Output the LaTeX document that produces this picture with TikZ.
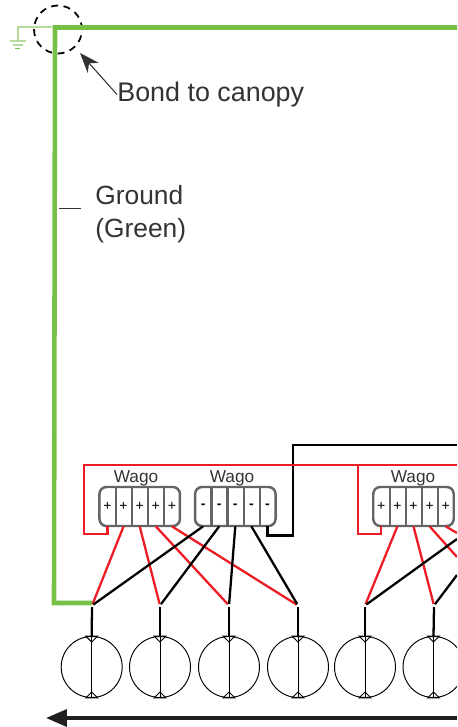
\documentclass[tikz,border=0pt]{standalone}
\usepackage{fontspec}
\setmainfont{Liberation Sans}
\usetikzlibrary{arrows.meta}
\definecolor{groundgreen}{HTML}{76C045}
\definecolor{palegreen}{HTML}{B4DB9C}
\definecolor{wirered}{HTML}{ED1C24}
\definecolor{inkgrey}{HTML}{333335}
\definecolor{boxgrey}{HTML}{636466}
\begin{document}
\begin{tikzpicture}[x=0.02cm,y=-0.02cm]
			\tikzset{wago/.style={rectangle, rounded corners=0.14cm, draw=boxgrey, line width=1.4pt, minimum width=1.61cm, minimum height=0.78cm, inner sep=0}}
			\tikzset{cell/.style={rectangle, minimum width=0.322cm, minimum height=0.78cm, inner sep=0, text=black, font=\fontsize{8}{8}\selectfont}}
			\tikzset{divider/.style={draw=boxgrey, line width=1.3pt}}
			\tikzset{label/.style={inner sep=0, text=inkgrey}}
			\tikzset{joint/.style={circle, minimum size=0.05cm, inner sep=0}}
			\tikzset{lamp/.style={circle, draw=black, line width=0.55pt, minimum size=1.22cm, inner sep=0}}
			\tikzset{redwire/.style={draw=wirered, line width=1.3pt}}
			\tikzset{blackwire/.style={draw=black, line width=1.3pt}}
			\tikzset{stem/.style={draw=black, line width=0.55pt}}

			\clip (0,0) rectangle (457,727);

			\node[circle, draw=black, line width=1pt, dash pattern=on 0.14cm off 0.11cm, minimum size=0.96cm, inner sep=0] at (58,29.5) (bond) {};
			\node[label, anchor=west, font=\fontsize{15.3}{18}\selectfont] at (117,94.5) (bondtext) {Bond to canopy};
			\node[label, anchor=west, align=left, font=\fontsize{15}{18.7}\selectfont] at (95,214) (groundtext) {Ground\\(Green)};
			\node[label, font=\fontsize{9.8}{12}\selectfont] at (136,478.5) (labela) {Wago};
			\node[label, font=\fontsize{9.8}{12}\selectfont] at (232,478.5) (labelb) {Wago};
			\node[label, font=\fontsize{9.8}{12}\selectfont] at (413,478.5) (labelc) {Wago};

			\node[wago] at (139.7,506.5) (wa) {};
			\node[wago] at (235.3,506.5) (wb) {};
			\node[wago] at (413.5,506.5) (wc) {};

			\node[cell] at (107.5,506.5) (a1) {+};
			\node[cell] at (123.6,506.5) (a2) {+};
			\node[cell] at (139.7,506.5) (a3) {+};
			\node[cell] at (155.8,506.5) (a4) {+};
			\node[cell] at (171.9,506.5) (a5) {+};
			\node[cell] at (203.1,506.5) (b1) {\textbf{-}};
			\node[cell] at (219.2,506.5) (b2) {\textbf{-}};
			\node[cell] at (235.3,506.5) (b3) {\textbf{-}};
			\node[cell] at (251.4,506.5) (b4) {\textbf{-}};
			\node[cell] at (267.5,506.5) (b5) {\textbf{-}};
			\node[cell] at (381.3,506.5) (c1) {+};
			\node[cell] at (397.4,506.5) (c2) {+};
			\node[cell] at (413.5,506.5) (c3) {+};
			\node[cell] at (429.6,506.5) (c4) {+};
			\node[cell] at (445.7,506.5) (c5) {+};

			\node[joint] at (92,605.5) (j1) {};
			\node[joint] at (160,605.5) (j2) {};
			\node[joint] at (229,605.5) (j3) {};
			\node[joint] at (298,605.5) (j4) {};
			\node[joint] at (365,605.5) (j5) {};
			\node[joint] at (434,605.5) (j6) {};

			\node[lamp] at (91.7,667) (l1) {};
			\node[lamp] at (160,667) (l2) {};
			\node[lamp] at (229,667) (l3) {};
			\node[lamp] at (298,667) (l4) {};
			\node[lamp] at (365,667) (l5) {};
			\node[lamp] at (433.5,667) (l6) {};

			\coordinate (gright) at (457,27.5);
			\coordinate (gcorner) at (55,27.5);
			\coordinate (gbottom) at (54,603);
			\coordinate (gend) at (92,603);
			\coordinate (pright) at (52,27);
			\coordinate (pcorner) at (18,27);
			\coordinate (pfoot) at (18,41);
			\coordinate (bar1l) at (10,41);
			\coordinate (bar1r) at (26,41);
			\coordinate (bar2l) at (13,45);
			\coordinate (bar2r) at (23,45);
			\coordinate (bar3l) at (15,48.5);
			\coordinate (bar3r) at (20,48.5);
			\coordinate (bondtip) at (80,53);
			\coordinate (lead1) at (59,208);
			\coordinate (lead2) at (81,208);
			\coordinate (rtl) at (84,465);
			\coordinate (rbl) at (84,534);
			\coordinate (rtr) at (457,465);
			\coordinate (rtm) at (358,465);
			\coordinate (rbm) at (358,534);
			\coordinate (kbot) at (293,535.5);
			\coordinate (ktop) at (293,445);
			\coordinate (kright) at (457,445);
			\coordinate (off1) at (457,557);
			\coordinate (off2) at (457,533);
			\coordinate (off3) at (457,539);
			\coordinate (off4) at (457,575);
			\coordinate (busr) at (457,718);
			\coordinate (busl) at (46,718);

			\draw [line width=2.6pt, draw=groundgreen, line join=miter] (gright) -- (gcorner) -- (gbottom) -- (gend);
			\draw [line width=0.7pt, draw=palegreen] (pright) -- (pcorner) -- (pfoot);
			\draw [line width=0.8pt, draw=palegreen] (bar1l) -- (bar1r);
			\draw [line width=0.8pt, draw=palegreen] (bar2l) -- (bar2r);
			\draw [line width=0.8pt, draw=groundgreen] (bar3l) -- (bar3r);
			\draw [line width=0.6pt, draw=inkgrey, -{Stealth[length=0.4cm, width=0.3cm]}] (bondtext.west) -- (bondtip);
			\draw [line width=0.5pt, draw=inkgrey] (lead1) -- (lead2);

			\draw [divider] (a1.north east) -- (a1.south east);
			\draw [divider] (a2.north east) -- (a2.south east);
			\draw [divider] (a3.north east) -- (a3.south east);
			\draw [divider] (a4.north east) -- (a4.south east);
			\draw [divider] (b1.north east) -- (b1.south east);
			\draw [divider] (b2.north east) -- (b2.south east);
			\draw [divider] (b3.north east) -- (b3.south east);
			\draw [divider] (b4.north east) -- (b4.south east);
			\draw [divider] (c1.north east) -- (c1.south east);
			\draw [divider] (c2.north east) -- (c2.south east);
			\draw [divider] (c3.north east) -- (c3.south east);
			\draw [divider] (c4.north east) -- (c4.south east);

			\draw [blackwire] (b5.south) -- (b5.south |- kbot) -- (kbot) -- (ktop) -- (kright);
			\draw [redwire] (a1.south) -- (a1.south |- rbl) -- (rbl) -- (rtl) -- (rtr);
			\draw [redwire] (c1.south) -- (c1.south |- rbm) -- (rbm) -- (rtm);

			\draw [redwire] (a2.south) -- (j1);
			\draw [redwire] (a3.south) -- (j2);
			\draw [redwire] (a4.south) -- (j3);
			\draw [redwire] (a5.south) -- (j4);
			\draw [redwire] (c2.south) -- (j5);
			\draw [redwire] (c3.south) -- (j6);
			\draw [redwire] (c4.south) -- (off1);
			\draw [redwire] (c5.south) -- (off2);
			\draw [blackwire] (b1.south) -- (j1);
			\draw [blackwire] (b2.south) -- (j2);
			\draw [blackwire] (b3.south) -- (j3);
			\draw [blackwire] (b4.south) -- (j4);
			\draw [blackwire] (j5) -- (off3);
			\draw [blackwire] (j6) -- (off4);

			\draw [blackwire] (j1.south) -- (l1.north);
			\draw [blackwire] (j2.south) -- (l2.north);
			\draw [blackwire] (j3.south) -- (l3.north);
			\draw [blackwire] (j4.south) -- (l4.north);
			\draw [blackwire] (j5.south) -- (l5.north);
			\draw [blackwire] (j6.south) -- (l6.north);

			\draw [stem] (l1.north) -- (l1.south);
			\draw [stem] (l2.north) -- (l2.south);
			\draw [stem] (l3.north) -- (l3.south);
			\draw [stem] (l4.north) -- (l4.south);
			\draw [stem] (l5.north) -- (l5.south);
			\draw [stem] (l6.north) -- (l6.south);
			\draw [stem] ([xshift=-0.12cm]l1.north) -- ([xshift=0.12cm]l1.north) -- ([yshift=-0.12cm]l1.north) -- cycle;
			\draw [stem] ([xshift=-0.12cm]l2.north) -- ([xshift=0.12cm]l2.north) -- ([yshift=-0.12cm]l2.north) -- cycle;
			\draw [stem] ([xshift=-0.12cm]l3.north) -- ([xshift=0.12cm]l3.north) -- ([yshift=-0.12cm]l3.north) -- cycle;
			\draw [stem] ([xshift=-0.12cm]l4.north) -- ([xshift=0.12cm]l4.north) -- ([yshift=-0.12cm]l4.north) -- cycle;
			\draw [stem] ([xshift=-0.12cm]l5.north) -- ([xshift=0.12cm]l5.north) -- ([yshift=-0.12cm]l5.north) -- cycle;
			\draw [stem] ([xshift=-0.12cm]l6.north) -- ([xshift=0.12cm]l6.north) -- ([yshift=-0.12cm]l6.north) -- cycle;
			\draw [stem] ([xshift=-0.12cm]l1.south) -- ([xshift=0.12cm]l1.south) -- ([yshift=0.12cm]l1.south) -- cycle;
			\draw [stem] ([xshift=-0.12cm]l2.south) -- ([xshift=0.12cm]l2.south) -- ([yshift=0.12cm]l2.south) -- cycle;
			\draw [stem] ([xshift=-0.12cm]l3.south) -- ([xshift=0.12cm]l3.south) -- ([yshift=0.12cm]l3.south) -- cycle;
			\draw [stem] ([xshift=-0.12cm]l4.south) -- ([xshift=0.12cm]l4.south) -- ([yshift=0.12cm]l4.south) -- cycle;
			\draw [stem] ([xshift=-0.12cm]l5.south) -- ([xshift=0.12cm]l5.south) -- ([yshift=0.12cm]l5.south) -- cycle;
			\draw [stem] ([xshift=-0.12cm]l6.south) -- ([xshift=0.12cm]l6.south) -- ([yshift=0.12cm]l6.south) -- cycle;

			\draw [line width=2pt, draw=inkgrey!60!black, -{Triangle[length=0.42cm, width=0.34cm]}] (busr) -- (busl);
		\end{tikzpicture}
\end{document}
